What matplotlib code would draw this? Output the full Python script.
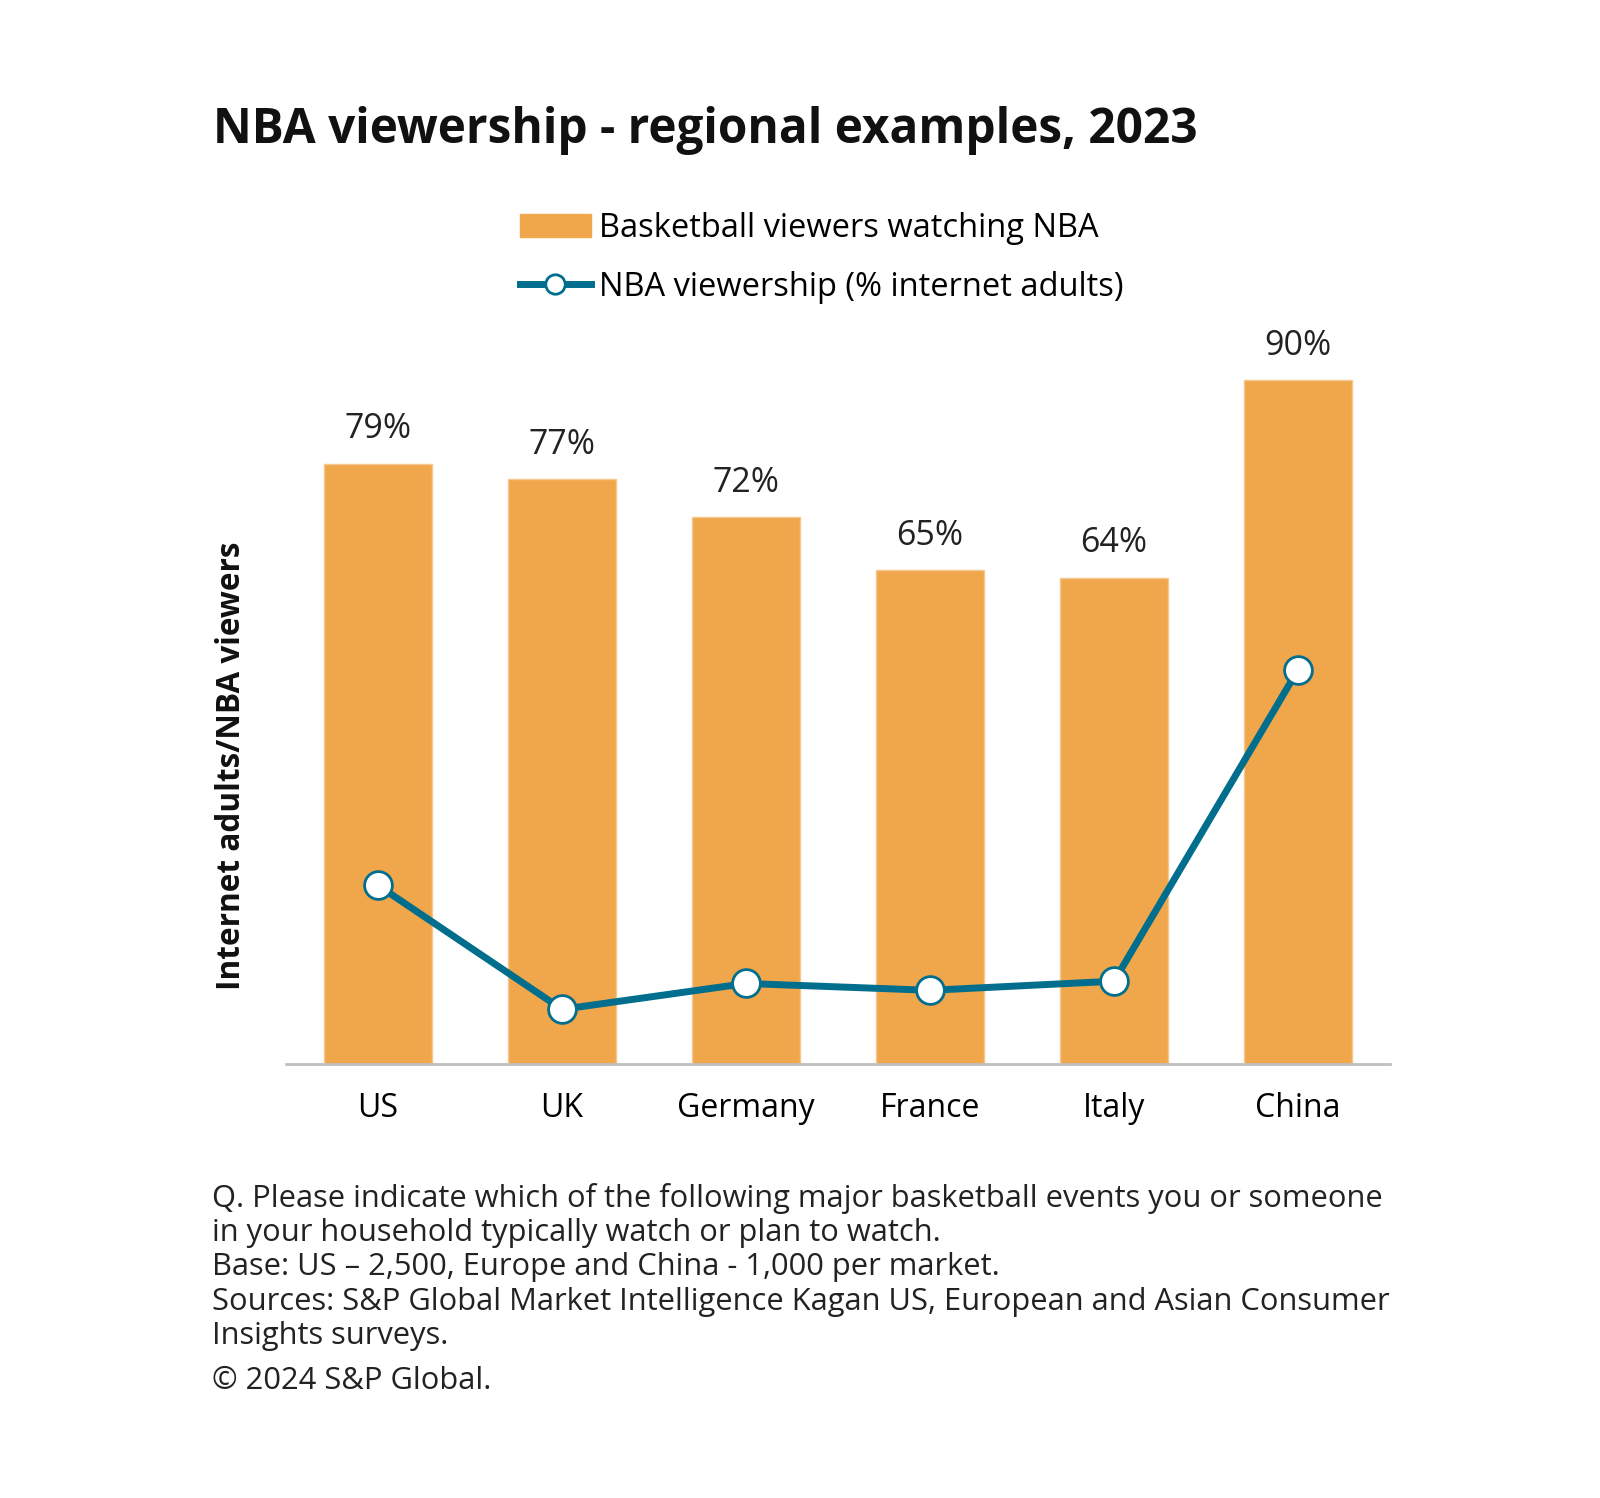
import matplotlib.pyplot as plt
from matplotlib.lines import Line2D
from matplotlib.patches import Patch

# data
countries = ['US', 'UK', 'Germany', 'France', 'Italy', 'China']
nba_share = [79, 77, 72, 65, 64, 90]          # basketball viewers watching NBA
nba_viewership = [23.5, 7.2, 10.6, 9.7, 10.9, 51.9]  # % internet adults (no labels, estimated)

bar_color = '#F0A64A'
line_color = '#006E8C'
plt.rcParams['font.family'] = ['Open Sans', 'DejaVu Sans']

fig = plt.figure(figsize=(16, 14.98), dpi=100)
ax = fig.add_axes([0.1788, 0.2897, 0.690, 0.5073])

x = range(len(countries))
bars = ax.bar(x, nba_share, width=0.59, color=bar_color, edgecolor='#F6C890', linewidth=1)
ax.plot(x, nba_viewership, color=line_color, lw=5, marker='o', ms=20,
        mfc='white', mec=line_color, mew=2, zorder=3)

for i, v in enumerate(nba_share):
    ax.text(i, v + 4.5, f'{v}%', ha='center', va='center', fontsize=24.5, color='#222222')

ax.set_xlim(-0.5, 5.5)
ax.set_ylim(0, 100)
ax.set_xticks(list(x))
ax.set_xticklabels(countries, fontsize=23)
ax.tick_params(axis='x', length=0, pad=20)
ax.set_yticks([])
for s in ['top', 'right', 'left']:
    ax.spines[s].set_visible(False)
ax.spines['bottom'].set_color('#BFBFBF')
ax.spines['bottom'].set_linewidth(2)

fig.text(0.1445, 0.489, 'Internet adults/NBA viewers', rotation=90, ha='center', va='center',
         fontsize=22.7, fontweight='bold', color='#111111')

fig.text(0.133, 0.913, 'NBA viewership - regional examples, 2023', fontsize=34.4,
         fontweight='bold', va='center', color='#111111')

handles = [Patch(color=bar_color),
           Line2D([], [], color=line_color, lw=5, marker='o', ms=14, mfc='white', mec=line_color, mew=2)]
fig.legend(handles, ['Basketball viewers watching NBA', 'NBA viewership (% internet adults)'],
           loc='center left', bbox_to_anchor=(0.3145, 0.828), frameon=False, fontsize=23.5,
           handlelength=2.2, handletextpad=0.25, labelspacing=0.8, borderpad=0)

notes = ('Q. Please indicate which of the following major basketball events you or someone\n'
         'in your household typically watch or plan to watch.\n'
         'Base: US \u2013 2,500, Europe and China - 1,000 per market.\n'
         'Sources: S&P Global Market Intelligence Kagan US, European and Asian Consumer\n'
         'Insights surveys.')
fig.text(0.1325, 0.2105, notes, fontsize=22.2, va='top', linespacing=1.19, color='#222222')
fig.text(0.1325, 0.078, '\u00a9 2024 S&P Global.', fontsize=22.2, va='center', color='#222222')

fig.savefig('out.png', dpi=100, facecolor='white')
